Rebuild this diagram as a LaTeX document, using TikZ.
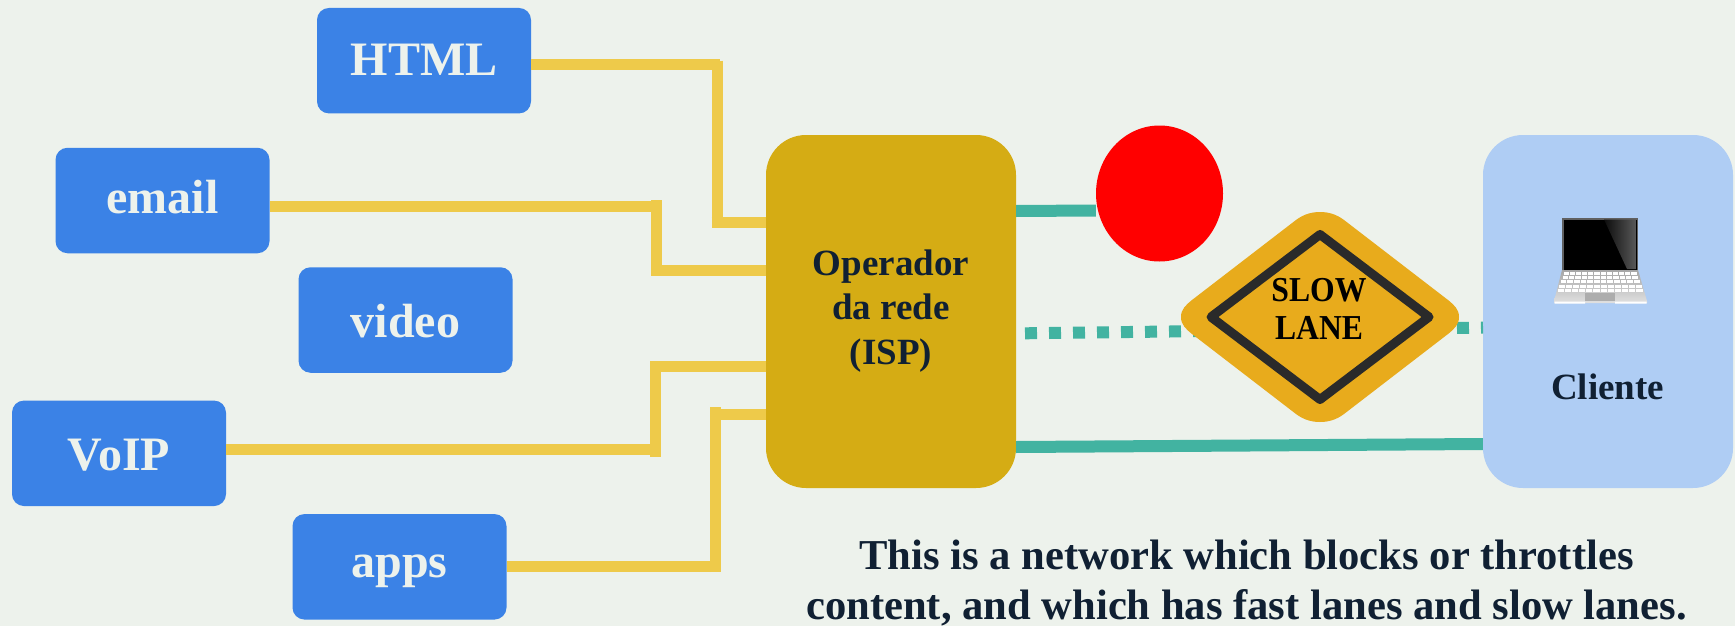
\documentclass[tikz,border=0pt]{standalone}
\usepackage{fontspec}
\setmainfont{Liberation Serif}
\usetikzlibrary{shapes.geometric}
\definecolor{bgc}{HTML}{EDF2EC}
\definecolor{boxblue}{HTML}{3B82E6}
\definecolor{gold}{HTML}{D5AC14}
\definecolor{wirec}{HTML}{EECA4A}
\definecolor{tealc}{HTML}{42B3A1}
\definecolor{clientc}{HTML}{AFCDF4}
\definecolor{navy}{HTML}{102033}
\definecolor{signc}{HTML}{E8AB1C}
\definecolor{signline}{HTML}{2A2A2A}
\tikzset{
  x=1pt,y=-1pt,
  srcbox/.style={draw=none,fill=boxblue,rounded corners=12pt,minimum width=214pt,minimum height=105.5pt,inner sep=0pt,text=bgc,text depth=0pt,font=\bfseries\fontsize{48}{50}\selectfont},
  bigbox/.style={draw=none,rounded corners=40pt,minimum width=250pt,minimum height=353pt,inner sep=0pt},
  wire/.style={draw=wirec,line width=10.8pt,line cap=butt},
  fastln/.style={draw=tealc,line width=12pt},
  dotln/.style={draw=tealc,line width=12pt,dash pattern=on 12pt off 12pt},
}
\begin{document}
\begin{tikzpicture}
\useasboundingbox (0,0) rectangle (1735,626);
\fill[bgc] (0,0) rectangle (1735,626);
% connector coordinates
\coordinate (h1) at (720,64.5); \coordinate (h2) at (717.2,60.7); \coordinate (h3) at (717.2,228); \coordinate (h4) at (711.7,222.5);
\coordinate (e1) at (651,206.5); \coordinate (e2) at (656.5,200); \coordinate (e3) at (656.5,275.7); \coordinate (e4) at (651,270.3);
\coordinate (v1) at (650,449.5); \coordinate (v2) at (655.5,456.7); \coordinate (v3) at (655.5,361); \coordinate (v4) at (650,366.7);
\coordinate (a1) at (721,566.5); \coordinate (a2) at (715.8,572); \coordinate (a3) at (715.8,407); \coordinate (a4) at (710.5,414.7);
% boxes
\node[srcbox,text height=28.6pt] (html) at (424,60.7) {HTML};
\node[srcbox,text height=26pt] (email) at (162.5,200.5) {email};
\node[srcbox,text height=34pt] (video) at (405.5,320) {video};
\node[srcbox,text height=34pt] (voip) at (119,453.3) {VoIP};
\node[srcbox,text height=21pt] (apps) at (399.5,566.8) {apps};
\node[bigbox,fill=gold] (isp) at (891,311.5) {};
\node[bigbox,fill=clientc] (client) at (1608,311.5) {};
\node[ellipse,draw=none,fill=red,minimum width=127pt,minimum height=136pt,inner sep=0pt] (stop) at (1159.5,193.5) {};
\coordinate (d1) at (1025,333.3); \coordinate (d2) at (1483,327.6);
\draw[dotln] (d1) -- (d2);
\draw[fastln] (isp.east |- 0,211) -- (stop.west |- 0,210.5);
\draw[fastln] (isp.east |- 0,447) -- (client.west |- 0,444);
\draw[wire] (html.east |- h1) -- (h1) (h2) -- (h3) (h4) -- (isp.west |- h4);
\draw[wire] (email.east |- e1) -- (e1) (e2) -- (e3) (e4) -- (isp.west |- e4);
\draw[wire] (voip.east |- v1) -- (v1) (v2) -- (v3) (v4) -- (isp.west |- v4);
\draw[wire] (apps.east |- a1) -- (a1) (a2) -- (a3) (a4) -- (isp.west |- a4);
% slow-lane sign
\fill[signc] (1181,317) .. controls (1181,309) and (1186,305) .. (1192,300) -- (1296,220)
  .. controls (1304,214) and (1312,212) .. (1320,212) .. controls (1328,212) and (1336,214) .. (1344,220)
  -- (1448,300) .. controls (1454,305) and (1459,309) .. (1459,317) .. controls (1459,325) and (1454,329) .. (1448,334)
  -- (1344,414) .. controls (1336,420) and (1328,422) .. (1320,422) .. controls (1312,422) and (1304,420) .. (1296,414)
  -- (1192,334) .. controls (1186,329) and (1181,325) .. (1181,317) -- cycle;
\draw[signline,line width=9pt,line join=round] (1211,317) -- (1320,234.5) -- (1429,317) -- (1320,399.5) -- cycle;
\node[font=\bfseries\fontsize{35}{38}\selectfont,text=black,align=center,inner sep=0pt,transform shape,xscale=.905] (slow) at (1319,308.5) {SLOW\\LANE};
% text
\node[font=\bfseries\fontsize{37}{44.7}\selectfont,text=navy,align=center,inner sep=0pt] (isptxt) at (891,311) {Operador\\da rede\\(ISP)};
\node[font=\bfseries\fontsize{37}{40}\selectfont,text=navy,inner sep=0pt] (clitxt) at (1607.5,387) {Cliente};
\node[font=\bfseries\fontsize{42.6}{50}\selectfont,text=navy,align=center,inner sep=0pt] (note) at (1246.5,583.5) {This is a network which blocks or throttles\\content, and which has fast lanes and slow lanes.};
% laptop
\fill[gray!75!black] (1562,218) rectangle (1638,271);
\fill[black] (1563.5,219.5) rectangle (1636.5,270);
\shade[left color=black!95,right color=black!65] (1604,219.5) -- (1636.5,219.5) -- (1636.5,269) -- (1627,269) -- cycle;
\shade[top color=black!35,bottom color=black!12] (1562,270) -- (1638,270) -- (1647,301) -- (1647,303) -- (1554,303) -- (1554,301) -- cycle;
\foreach \yy/\xa/\xb in {272/1563/1637,276/1562/1638,280/1560/1640,284.5/1558/1642,289/1557/1643}
  \foreach \t in {0,...,11}
    \fill[white] ({\xa+(\xb-\xa)*\t/12+.5},\yy) rectangle ({\xa+(\xb-\xa)*(\t+1)/12-.5},\yy+3);
\fill[black!32] (1585,293) rectangle (1615,300.5);
\fill[white] (1554.5,301.5) rectangle (1585,303.5) (1615,301.5) rectangle (1646.5,303.5);
\end{tikzpicture}
\end{document}
